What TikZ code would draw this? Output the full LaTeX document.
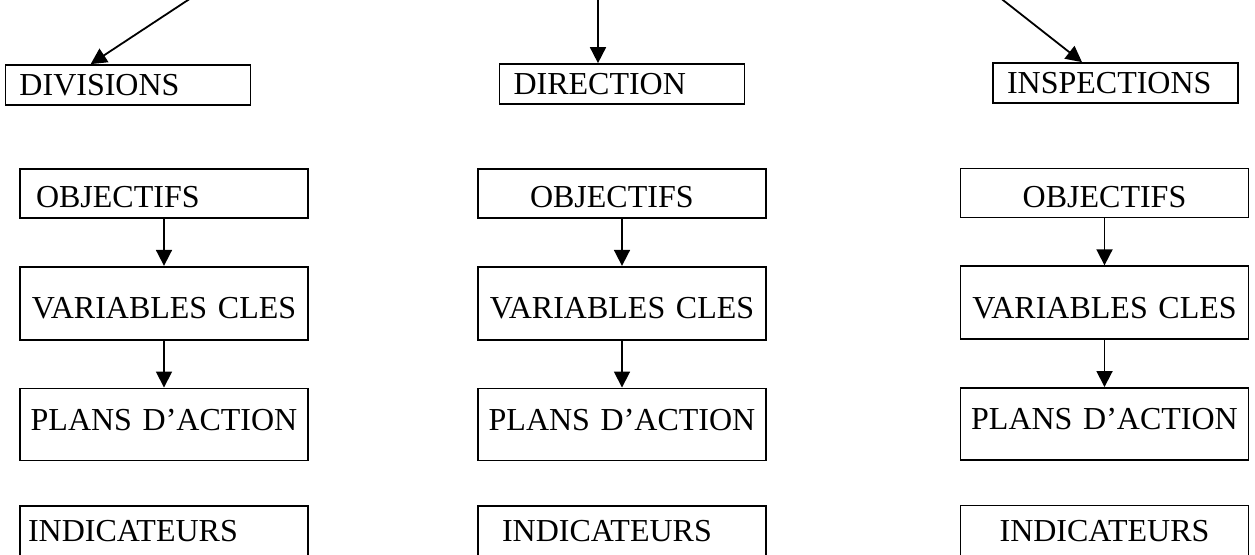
\documentclass[tikz,border=0pt]{standalone}
\usepackage{fontspec}
\setmainfont{Liberation Serif}
\usetikzlibrary{positioning,arrows.meta}
\newcommand{\fCell}{\fontsize{32}{38}\selectfont}

\begin{document}
\begin{tikzpicture}[x=1pt,y=1pt,
  head/.style={draw,line width=1.7pt,minimum height=40pt,inner ysep=0pt,text width=217pt,inner xsep=14pt,align=left,font=\fCell},
  cell/.style={draw,line width=1.7pt,inner ysep=0pt,text width=276pt,inner xsep=6pt,align=center,font=\fCell},
  sink/.style={text height=#1,text depth=0pt},
  rise/.style={text height=21pt,text depth=#1},
  link/.style={-{Triangle[length=16pt,width=16pt]},line width=1.8pt}]
  \useasboundingbox (0,0) rectangle (1255,554);
  \clip (0,0) rectangle (1255,554);
  % upper level
  \node[head] (div) at (128,469) {DIVISIONS};
  \node[head] (dir) at (622,470) {DIRECTION};
  \node[head] (insp) at (1115.5,471) {INSPECTIONS};
  \coordinate (srcL) at (197.6,560.3);
  \coordinate (srcM) at (598,560);
  \coordinate (srcR) at (995.1,560.1);
  \draw[link] (srcL) -- ([xshift=86pt]div.north west);
  \draw[link] (srcM) -- ([xshift=-24pt]dir.north);
  \draw[link] (srcR) -- ([xshift=-33.5pt]insp.north);
  % left column
  \node[cell,sink=29pt,minimum height=49pt,align=left,inner xsep=16pt,text width=256pt] (objL) at (164,360.5) {OBJECTIFS};
  \node[cell,sink=31pt,minimum height=73pt,below=47pt of objL] (varL) {VARIABLES CLES};
  \node[cell,rise=9pt,minimum height=72pt,below=47pt of varL] (plaL) {PLANS D’ACTION};
  \node[cell,minimum height=50pt,below=44pt of plaL,align=left,inner xsep=8pt,text width=272pt] (indL) {INDICATEURS};
  % middle column
  \node[cell,sink=29pt,minimum height=49pt,align=left,inner xsep=52pt,text width=184pt] (objM) at (622,360.5) {OBJECTIFS};
  \node[cell,sink=31pt,minimum height=73pt,below=47pt of objM] (varM) {VARIABLES CLES};
  \node[cell,rise=9pt,minimum height=72pt,below=47pt of varM] (plaM) {PLANS D’ACTION};
  \node[cell,minimum height=50pt,below=44pt of plaM,align=left,inner xsep=24pt,text width=240pt] (indM) {INDICATEURS};
  % right column
  \node[cell,sink=29pt,minimum height=49pt] (objR) at (1104.5,361) {OBJECTIFS};
  \node[cell,sink=31pt,minimum height=73pt,below=47pt of objR] (varR) {VARIABLES CLES};
  \node[cell,rise=9pt,minimum height=72pt,below=47pt of varR] (plaR) {PLANS D’ACTION};
  \node[cell,minimum height=50pt,below=44pt of plaR] (indR) {INDICATEURS};
  \foreach \c in {L,M,R}{
    \draw[link] (obj\c) -- (var\c);
    \draw[link] (var\c) -- (pla\c);
  }
\end{tikzpicture}
\end{document}
